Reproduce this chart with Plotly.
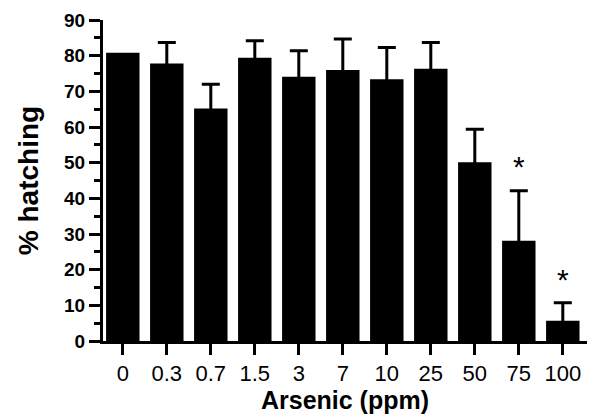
import plotly.graph_objects as go

categories = ["0", "0.3", "0.7", "1.5", "3", "7", "10", "25", "50", "75", "100"]
hatching = [80.8, 77.8, 65.2, 79.4, 74.1, 76.0, 73.4, 76.3, 50.1, 28.1, 5.7]
err_upper = [0.0, 5.9, 6.8, 4.8, 7.3, 8.7, 8.9, 7.4, 9.3, 14.0, 5.0]
star_labels = ["", "", "", "", "", "", "", "", "", "*", "*"]
star_y = [None, None, None, None, None, None, None, None, None, 48.0, 16.5]

# error bars start slightly inside the bar so the lower cap stays hidden
inset = 1.0
err_base = [h - inset if e > 0 else None for h, e in zip(hatching, err_upper)]
err_len = [e + inset for e in err_upper]

fig = go.Figure()
fig.add_trace(go.Bar(
    x=categories, y=hatching, width=0.76,
    marker=dict(color="black", line=dict(width=0)),
    showlegend=False,
))
fig.add_trace(go.Scatter(
    x=categories, y=err_base, mode="markers",
    marker=dict(size=1, color="rgba(0,0,0,0)"),
    error_y=dict(type="data", array=err_len, arrayminus=[0]*len(err_len),
                 symmetric=False, color="black", thickness=3, width=9),
    showlegend=False, hoverinfo="skip",
))
fig.add_trace(go.Scatter(
    x=categories, y=star_y, mode="text", text=star_labels,
    textfont=dict(family="Liberation Sans, Arial", size=30, color="black"),
    showlegend=False, hoverinfo="skip",
))

fig.update_layout(
    width=592, height=417,
    margin=dict(l=103, r=5, t=20, b=76),
    plot_bgcolor="white", paper_bgcolor="white",
    font=dict(family="Liberation Sans, Arial", color="black"),
)
fig.update_xaxes(
    type="category", range=[-0.45, 10.55],
    showline=True, linecolor="black", linewidth=3,
    ticks="outside", ticklen=11, tickwidth=3, tickcolor="black",
    tickfont=dict(size=22, family="Liberation Sans, Arial"),
    title=dict(text="<b>Arsenic (ppm)</b>", font=dict(size=25), standoff=2),
    showgrid=False, zeroline=False,
)
fig.update_yaxes(
    range=[0, 90], dtick=10, tick0=0,
    showline=True, linecolor="black", linewidth=3,
    ticks="outside", ticklen=11, tickwidth=3, tickcolor="black",
    tickfont=dict(size=19, family="Liberation Sans, Arial", weight="bold"),
    minor=dict(dtick=5, tick0=0, ticks="outside", ticklen=6, tickwidth=3, tickcolor="black"),
    title=dict(text="<b>% hatching</b>", font=dict(size=28), standoff=18),
    showgrid=False, zeroline=False,
)

fig.write_html("out.html")
